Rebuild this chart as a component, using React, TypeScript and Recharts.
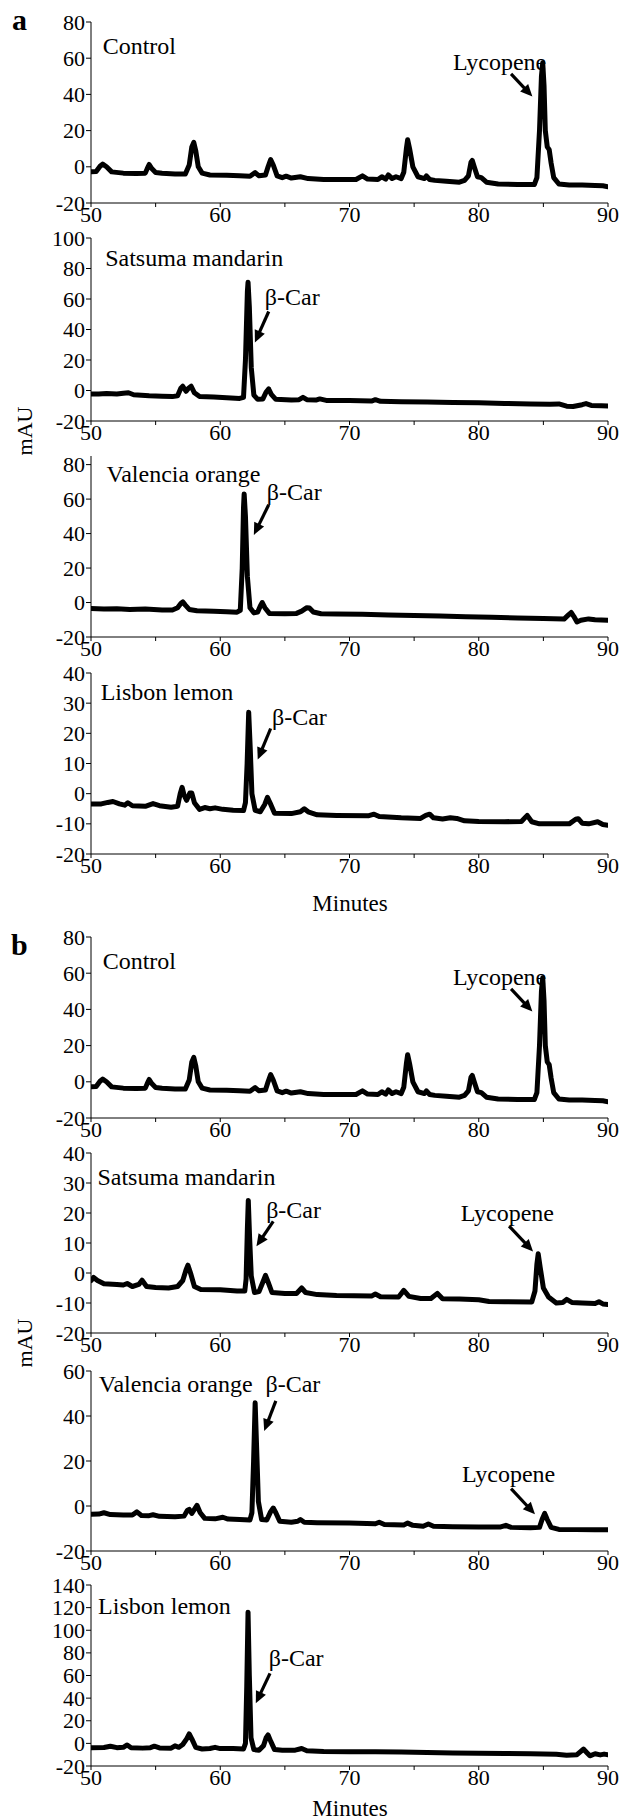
import React from 'react';
import { LineChart, Line, XAxis, YAxis, ReferenceLine, ReferenceDot } from 'recharts';

type Pt = [number, number];

// ---------- data ----------
const xTicks = [50, 55, 60, 65, 70, 75, 80, 85, 90];

const controlTrace: Pt[] = [
  [50.0, -2.8], [50.4, -2.6], [50.7, 0.3], [50.9, 1.5], [51.2, 0.0], [51.6, -2.8], [52.5, -3.5], [53.5, -3.7],
  [54.2, -3.5], [54.35, -1], [54.5, 1.3], [54.7, -1], [55.0, -3.2], [55.5, -3.6], [56.5, -4.0], [57.3, -4.0],
  [57.6, 1], [57.8, 11], [57.95, 13.5], [58.1, 9], [58.3, 0], [58.6, -3.5], [59.2, -4.5], [60.5, -4.7],
  [61.5, -5.0], [62.3, -5.2], [62.7, -3.2], [63.0, -5], [63.5, -4.5], [63.7, 0], [63.9, 4.0], [64.1, 1],
  [64.4, -5], [64.8, -6], [65.1, -5.2], [65.5, -6.2], [66.2, -5.5], [66.8, -6.5], [68, -7], [70.5, -7],
  [71, -5], [71.4, -6.8], [72.2, -7], [72.5, -5.5], [72.8, -6.8], [73.0, -4.5], [73.3, -6.5], [73.6, -5.5],
  [74.0, -6.5], [74.2, -3], [74.4, 10], [74.5, 15], [74.65, 10], [74.9, 0], [75.3, -5.5], [75.8, -6.5],
  [75.95, -5], [76.2, -7], [76.6, -7.5], [77.5, -8], [78.5, -8.5], [78.9, -7.5], [79.2, -5], [79.4, 2.5],
  [79.5, 3.5], [79.65, 0], [79.9, -5.5], [80.2, -6], [80.6, -8.5], [81.5, -9.5], [83, -9.8], [84.3, -9.8],
  [84.5, -6], [84.7, 20], [84.85, 50], [84.95, 57.5], [85.05, 45], [85.15, 20], [85.3, 11], [85.45, 9.5],
  [85.6, 2], [85.8, -6], [86.2, -9.5], [87, -10], [88, -10], [89, -10.3], [89.6, -10.5], [90, -11],
];

const satsumaTraceA: Pt[] = [
  [50, -2.3], [50.6, -2.3], [51.2, -2.0], [52, -2.3], [52.5, -1.8], [52.9, -1.5], [53.3, -2.8], [54.5, -3.5],
  [55.5, -3.8], [56.3, -4.0], [56.7, -3.5], [56.95, 1.5], [57.1, 2.8], [57.35, -0.5], [57.55, 1.5], [57.75, 2.8],
  [58.0, -1.5], [58.4, -4.0], [59.5, -4.3], [60.5, -4.8], [61.5, -5.2], [61.8, -4.5], [61.95, 20], [62.1, 65],
  [62.15, 71], [62.25, 55], [62.4, 15], [62.6, -3], [62.9, -5.8], [63.3, -5.5], [63.55, -1], [63.75, 1.0],
  [63.95, -2.5], [64.3, -5.8], [65.5, -6.2], [66.1, -6], [66.4, -4.5], [66.7, -6], [67.4, -6.3], [67.7, -5.5],
  [68.2, -6.5], [70, -6.6], [71.7, -6.9], [72.0, -6], [72.4, -7.1], [74, -7.3], [76, -7.6], [78, -7.9],
  [80, -8.1], [82, -8.5], [84, -8.8], [85.5, -9.0], [86.2, -8.8], [86.8, -10.3], [87.3, -10.5], [88.0, -9.3],
  [88.3, -8.6], [88.7, -9.8], [89.5, -10.0], [90, -10.2],
];

const valenciaTraceA: Pt[] = [
  [50, -3.5], [51, -3.8], [52, -3.6], [53, -4], [54.2, -3.8], [55.5, -4.3], [56.3, -4.3], [56.7, -3],
  [56.95, -0.5], [57.1, 0.4], [57.3, -1.5], [57.6, -4], [58.2, -4.8], [59.5, -5], [60.5, -5.3], [61.3, -5.6],
  [61.55, -4.5], [61.7, 20], [61.8, 55], [61.85, 63], [61.95, 50], [62.1, 15], [62.3, -3], [62.6, -6],
  [62.9, -5.5], [63.1, -2], [63.25, 0], [63.45, -3], [63.8, -6.3], [65, -6.5], [65.9, -6.3], [66.3, -5],
  [66.7, -3], [66.9, -3.2], [67.2, -5.5], [67.8, -6.5], [69, -6.6], [71, -6.8], [73, -7.2], [75, -7.5],
  [77, -7.8], [79, -8.2], [81, -8.5], [83, -9], [85, -9.3], [86.6, -9.6], [86.9, -7.5], [87.15, -5.8],
  [87.35, -8], [87.6, -11.3], [87.9, -10.3], [88.5, -9.5], [89, -10], [90, -10.3],
];

const lisbonTraceA: Pt[] = [
  [50, -3.4], [50.8, -3.4], [51.3, -2.9], [51.7, -2.6], [52.2, -3.4], [52.6, -3.8], [52.85, -3], [53.2, -4],
  [54.2, -4.2], [54.8, -3.3], [55.3, -4], [56.2, -4.5], [56.7, -4.2], [56.9, 0], [57.05, 2.1], [57.2, -0.5],
  [57.4, -2.2], [57.65, 0.2], [57.8, 0.2], [58.0, -3], [58.4, -5.2], [58.8, -4.6], [59.2, -5], [59.6, -4.7],
  [60.2, -5.2], [61, -5.5], [61.8, -5.6], [61.95, -3], [62.08, 10], [62.2, 27], [62.32, 15], [62.45, 0],
  [62.7, -5.5], [63.1, -6], [63.45, -3.5], [63.65, -1.2], [63.85, -3], [64.2, -6.5], [65.5, -6.6], [66.2, -6],
  [66.5, -5], [66.8, -6], [67.5, -7], [69, -7.2], [71.5, -7.3], [71.9, -6.8], [72.3, -7.6], [74, -8],
  [75.5, -8.2], [75.9, -7.2], [76.2, -6.8], [76.5, -8], [77.2, -8.4], [77.8, -8], [78.3, -8.2], [78.9, -9],
  [80, -9.2], [82, -9.3], [83.3, -9.2], [83.75, -7.2], [84.1, -9.3], [84.7, -10], [86, -10], [87, -10],
  [87.5, -8.5], [87.7, -8.3], [88, -9.8], [88.5, -10], [89.2, -9.3], [89.6, -10.2], [90, -10.5],
];

const satsumaTraceB: Pt[] = [
  [50, -2.5], [50.2, -1.5], [50.5, -2.5], [51, -3.6], [52, -3.8], [52.5, -4], [52.8, -3.5], [53.2, -4.5],
  [53.7, -3.8], [53.95, -2.4], [54.3, -4.5], [55, -4.8], [56, -5], [56.7, -4.5], [57.1, -2.5], [57.35, 1],
  [57.5, 2.6], [57.7, 0], [58, -4.5], [58.5, -5.5], [60, -5.6], [61.3, -6], [61.9, -6], [62.0, -2],
  [62.1, 15], [62.17, 24.2], [62.27, 12], [62.4, -1], [62.65, -6.5], [63.0, -6.2], [63.3, -3], [63.5, -0.8],
  [63.7, -3], [64.0, -6.5], [65, -6.8], [65.9, -6.8], [66.3, -5], [66.6, -6.5], [67.5, -7.2], [69, -7.5],
  [71.7, -7.7], [72, -7], [72.4, -7.9], [73.8, -8], [74.2, -5.8], [74.6, -7.8], [75.5, -8.5], [76.3, -8.5],
  [76.8, -6.8], [77.2, -8.6], [78.5, -8.7], [80, -8.9], [80.8, -9.5], [82, -9.6], [84.1, -9.7], [84.35, -6],
  [84.5, 3], [84.6, 6.4], [84.75, 2], [85, -5], [85.4, -8], [86, -10], [86.5, -9.8], [86.8, -8.8],
  [87.2, -9.8], [88, -10], [89, -10.2], [89.3, -9.6], [89.6, -10.3], [90, -10.5],
];

const valenciaTraceB: Pt[] = [
  [50, -3.7], [50.6, -3.6], [51, -3], [51.5, -3.8], [52.5, -4], [53.2, -4], [53.55, -2.6], [53.9, -4.2],
  [54.5, -4.3], [54.8, -3.9], [55.3, -4.6], [56.5, -4.8], [57.2, -4.5], [57.45, -2], [57.6, -1.5], [57.8, -3.3],
  [58.0, -1.5], [58.2, 0.3], [58.45, -3], [58.8, -5.5], [59.6, -5.7], [60.2, -5], [60.6, -5.8], [61.5, -6],
  [62.3, -6.2], [62.45, -3], [62.58, 20], [62.7, 45.9], [62.82, 25], [62.95, 2], [63.2, -6], [63.6, -6.2],
  [63.9, -2.5], [64.1, -0.9], [64.3, -3], [64.6, -6.8], [65.5, -7.2], [66, -6.8], [66.2, -6], [66.5, -7.2],
  [67.5, -7.4], [70, -7.6], [72, -7.9], [72.3, -7.2], [72.7, -8.2], [74.2, -8.4], [74.5, -7.6], [74.9, -8.6],
  [75.7, -9], [76.1, -8], [76.5, -9], [78, -9.2], [80, -9.3], [81.7, -9.3], [82.1, -8.6], [82.5, -9.5],
  [84, -9.7], [84.7, -9.5], [84.9, -6], [85.1, -3.3], [85.3, -6], [85.6, -9.5], [86.2, -10.4], [87.5, -10.5],
  [89, -10.6], [90, -10.6],
];

const lisbonTraceB: Pt[] = [
  [50, -3.8], [51, -3.7], [51.5, -2.6], [52, -3.8], [52.5, -3.5], [52.8, -1.4], [53.1, -3.8], [54, -4.2],
  [54.6, -3.8], [54.9, -2.5], [55.3, -4], [56.2, -4.3], [56.5, -2.2], [56.8, -3.5], [57.1, -1], [57.4, 4],
  [57.6, 8.3], [57.8, 4], [58.1, -3.5], [58.6, -5], [59.2, -4.5], [59.6, -3.5], [60, -4.6], [61, -4.6],
  [61.8, -5], [61.95, 0], [62.05, 50], [62.15, 116], [62.25, 60], [62.38, 5], [62.6, -5.5], [63.0, -6],
  [63.35, -2], [63.55, 5], [63.7, 7.4], [63.9, 2], [64.2, -5.5], [64.8, -6], [65.8, -6], [66.3, -4.5],
  [66.7, -6.5], [68, -7.2], [70, -7.3], [72, -7.5], [74, -7.6], [76, -8], [78, -8.5], [80, -8.8],
  [82, -9], [84, -9.2], [86, -9.6], [86.8, -10.5], [87.6, -10], [87.9, -7], [88.1, -5], [88.35, -8],
  [88.6, -11], [89, -9.2], [89.4, -10.2], [89.7, -9.5], [90, -10],
];

const ticksControl = [-20, 0, 20, 40, 60, 80];
const ticksSatsumaA = [-20, 0, 20, 40, 60, 80, 100];
const ticksValenciaA = [-20, 0, 20, 40, 60, 80];
const ticksLisbonA = [-20, -10, 0, 10, 20, 30, 40];
const ticksSatsumaB = [-20, -10, 0, 10, 20, 30, 40];
const ticksValenciaB = [-20, 0, 20, 40, 60];
const ticksLisbonB = [-20, 0, 20, 40, 60, 80, 100, 120, 140];

type Label = { t: number; v: number; text: string };
type Arrow = { t1: number; v1: number; t2: number; v2: number };

const labelsControl: Label[] = [
  { t: 50.9, v: 62.3, text: 'Control' },
  { t: 78.0, v: 53.6, text: 'Lycopene' },
];
const arrowsControl: Arrow[] = [{ t1: 82.5, v1: 51.3, t2: 84.15, v2: 38.8 }];

const labelsSatsumaA: Label[] = [
  { t: 51.1, v: 81.8, text: 'Satsuma mandarin' },
  { t: 63.45, v: 56.2, text: 'β-Car' },
];
const arrowsSatsumaA: Arrow[] = [{ t1: 63.75, v1: 51.8, t2: 62.68, v2: 31.5 }];

const labelsValenciaA: Label[] = [
  { t: 51.2, v: 69.7, text: 'Valencia orange' },
  { t: 63.6, v: 59.6, text: 'β-Car' },
];
const arrowsValenciaA: Arrow[] = [{ t1: 63.75, v1: 56.7, t2: 62.6, v2: 39.2 }];

const labelsLisbonA: Label[] = [
  { t: 50.75, v: 31.2, text: 'Lisbon lemon' },
  { t: 64.0, v: 22.7, text: 'β-Car' },
];
const arrowsLisbonA: Arrow[] = [{ t1: 63.9, v1: 21.6, t2: 62.9, v2: 11.3 }];

const labelsSatsumaB: Label[] = [
  { t: 50.5, v: 29.4, text: 'Satsuma mandarin' },
  { t: 63.55, v: 18.3, text: 'β-Car' },
  { t: 78.6, v: 17.2, text: 'Lycopene' },
];
const arrowsSatsumaB: Arrow[] = [
  { t1: 64.1, v1: 17.2, t2: 62.8, v2: 8.9 },
  { t1: 82.35, v1: 15.6, t2: 84.2, v2: 7.2 },
];

const labelsValenciaB: Label[] = [
  { t: 50.6, v: 50.7, text: 'Valencia orange' },
  { t: 63.5, v: 50.7, text: 'β-Car' },
  { t: 78.7, v: 10.7, text: 'Lycopene' },
];
const arrowsValenciaB: Arrow[] = [
  { t1: 64.3, v1: 46.7, t2: 63.4, v2: 33.3 },
  { t1: 82.5, v1: 7.7, t2: 84.35, v2: -3.7 },
];

const labelsLisbonB: Label[] = [
  { t: 50.55, v: 114.4, text: 'Lisbon lemon' },
  { t: 63.75, v: 68.4, text: 'β-Car' },
];
const arrowsLisbonB: Arrow[] = [{ t1: 63.85, v1: 61.9, t2: 62.75, v2: 35.4 }];

// ---------- layout ----------
const FONT = '"Liberation Serif", "Times New Roman", Times, serif';
const MT = 14;
const XH = 30;
const PLOT_LEFT = 91;
const PLOT_RIGHT = 608;
const W = 625;

type PanelSpec = {
  trace: Pt[];
  yDomain: [number, number];
  yTicks: number[];
  labels: Label[];
  arrows: Arrow[];
  top: number;
  plotH: number;
};

const panels: PanelSpec[] = [
  { trace: controlTrace, yDomain: [-20, 80], yTicks: ticksControl, labels: labelsControl, arrows: arrowsControl, top: 22, plotH: 181 },
  { trace: satsumaTraceA, yDomain: [-20, 100], yTicks: ticksSatsumaA, labels: labelsSatsumaA, arrows: arrowsSatsumaA, top: 238, plotH: 183 },
  { trace: valenciaTraceA, yDomain: [-20, 85], yTicks: ticksValenciaA, labels: labelsValenciaA, arrows: arrowsValenciaA, top: 456, plotH: 181 },
  { trace: lisbonTraceA, yDomain: [-20, 40], yTicks: ticksLisbonA, labels: labelsLisbonA, arrows: arrowsLisbonA, top: 673, plotH: 181 },
  { trace: controlTrace, yDomain: [-20, 80], yTicks: ticksControl, labels: labelsControl, arrows: arrowsControl, top: 937, plotH: 181 },
  { trace: satsumaTraceB, yDomain: [-20, 40], yTicks: ticksSatsumaB, labels: labelsSatsumaB, arrows: arrowsSatsumaB, top: 1153, plotH: 180 },
  { trace: valenciaTraceB, yDomain: [-20, 60], yTicks: ticksValenciaB, labels: labelsValenciaB, arrows: arrowsValenciaB, top: 1371, plotH: 180 },
  { trace: lisbonTraceB, yDomain: [-20, 140], yTicks: ticksLisbonB, labels: labelsLisbonB, arrows: arrowsLisbonB, top: 1585, plotH: 181 },
];

const XTick = (props: any) => {
  const { x, y, payload } = props;
  if (payload.value % 10 !== 0) return <g />;
  return (
    <text x={x} y={y + 15} textAnchor="middle" fontFamily={FONT} fontSize={22} fill="#000">
      {payload.value}
    </text>
  );
};

const YTick = (props: any) => {
  const { x, y, payload } = props;
  return (
    <text x={x - 1} y={y + 7.5} textAnchor="end" fontFamily={FONT} fontSize={22} fill="#000">
      {payload.value}
    </text>
  );
};

const EmptyTick = () => <g />;

const ArrowShape = (p: any) => {
  const { x1, y1, x2, y2 } = p;
  if ([x1, y1, x2, y2].some((n) => typeof n !== 'number' || isNaN(n))) return <g />;
  const dx = x2 - x1;
  const dy = y2 - y1;
  const len = Math.hypot(dx, dy) || 1;
  const ux = dx / len;
  const uy = dy / len;
  const hl = 12;
  const hw = 5.5;
  const bx = x2 - ux * hl;
  const by = y2 - uy * hl;
  const pts = `${x2},${y2} ${bx - uy * hw},${by + ux * hw} ${bx + uy * hw},${by - ux * hw}`;
  return (
    <g>
      <line x1={x1} y1={y1} x2={bx + ux * 1} y2={by + uy * 1} stroke="#000" strokeWidth={3.2} />
      <polygon points={pts} fill="#000" />
    </g>
  );
};

const Panel = ({ spec }: { spec: PanelSpec }) => {
  const rows = spec.trace.map(([t, v]) => ({ t, v }));
  const h = MT + spec.plotH + XH;
  return (
    <div style={{ position: 'absolute', left: 0, top: spec.top - MT, width: W, height: h }}>
      <LineChart
        width={W}
        height={h}
        data={rows}
        margin={{ top: MT, right: W - PLOT_RIGHT, left: 0, bottom: 0 }}
      >
        <XAxis
          xAxisId="b"
          dataKey="t"
          type="number"
          domain={[50, 90]}
          ticks={xTicks}
          interval={0}
          height={XH}
          tick={XTick}
          tickSize={4}
          tickMargin={0}
          axisLine={{ stroke: '#000', strokeWidth: 1 }}
          tickLine={{ stroke: '#000' }}
          allowDataOverflow
        />
        <XAxis
          xAxisId="t"
          orientation="top"
          type="number"
          domain={[50, 90]}
          ticks={xTicks}
          interval={0}
          height={0}
          tick={EmptyTick}
          tickSize={3}
          mirror
          axisLine={{ stroke: '#000', strokeWidth: 1 }}
          tickLine={{ stroke: '#000' }}
          allowDataOverflow
        />
        <YAxis
          yAxisId="l"
          type="number"
          domain={spec.yDomain}
          ticks={spec.yTicks}
          interval={0}
          width={PLOT_LEFT}
          tick={YTick}
          tickSize={5}
          tickMargin={0}
          axisLine={{ stroke: '#000', strokeWidth: 1 }}
          tickLine={{ stroke: '#000' }}
          allowDataOverflow
        />
        <YAxis
          yAxisId="r"
          orientation="right"
          type="number"
          domain={spec.yDomain}
          ticks={spec.yTicks}
          interval={0}
          width={0}
          tick={EmptyTick}
          tickSize={3}
          mirror
          axisLine={{ stroke: '#000', strokeWidth: 1 }}
          tickLine={{ stroke: '#000' }}
          allowDataOverflow
        />
        <Line
          xAxisId="b"
          yAxisId="l"
          type="linear"
          dataKey="v"
          stroke="#000"
          strokeWidth={5}
          strokeLinejoin="round"
          strokeLinecap="round"
          dot={false}
          activeDot={false}
          isAnimationActive={false}
        />
        {spec.arrows.map((a, i) => (
          <ReferenceLine
            key={'a' + i}
            xAxisId="b"
            yAxisId="l"
            segment={[{ x: a.t1, y: a.v1 }, { x: a.t2, y: a.v2 }]}
            ifOverflow="visible"
            shape={ArrowShape}
          />
        ))}
        {spec.labels.map((l, i) => (
          <ReferenceDot
            key={'l' + i}
            xAxisId="b"
            yAxisId="l"
            x={l.t}
            y={l.v}
            ifOverflow="visible"
            shape={(p: any) => (
              <text x={p.cx} y={p.cy} fontFamily={FONT} fontSize={24} fill="#000">
                {l.text}
              </text>
            )}
          />
        ))}
      </LineChart>
    </div>
  );
};

export default function App() {
  return (
    <div style={{ position: 'absolute', left: 0, top: 0, width: 625, height: 1820, background: '#fff', overflow: 'hidden' }}>
      {panels.map((p, i) => (
        <Panel key={i} spec={p} />
      ))}
      <svg width={625} height={1820} style={{ position: 'absolute', left: 0, top: 0, pointerEvents: 'none' }}>
        <text x={12} y={30} fontFamily={FONT} fontSize={30} fontWeight="bold" fill="#000">a</text>
        <text x={11} y={955} fontFamily={FONT} fontSize={30} fontWeight="bold" fill="#000">b</text>
        <text x={0} y={0} transform="translate(32,431) rotate(-90)" textAnchor="middle" fontFamily={FONT} fontSize={22} fill="#000">mAU</text>
        <text x={0} y={0} transform="translate(32,1343) rotate(-90)" textAnchor="middle" fontFamily={FONT} fontSize={22} fill="#000">mAU</text>
        <text x={350} y={911} textAnchor="middle" fontFamily={FONT} fontSize={23} fill="#000">Minutes</text>
        <text x={350} y={1816} textAnchor="middle" fontFamily={FONT} fontSize={23} fill="#000">Minutes</text>
      </svg>
    </div>
  );
}
